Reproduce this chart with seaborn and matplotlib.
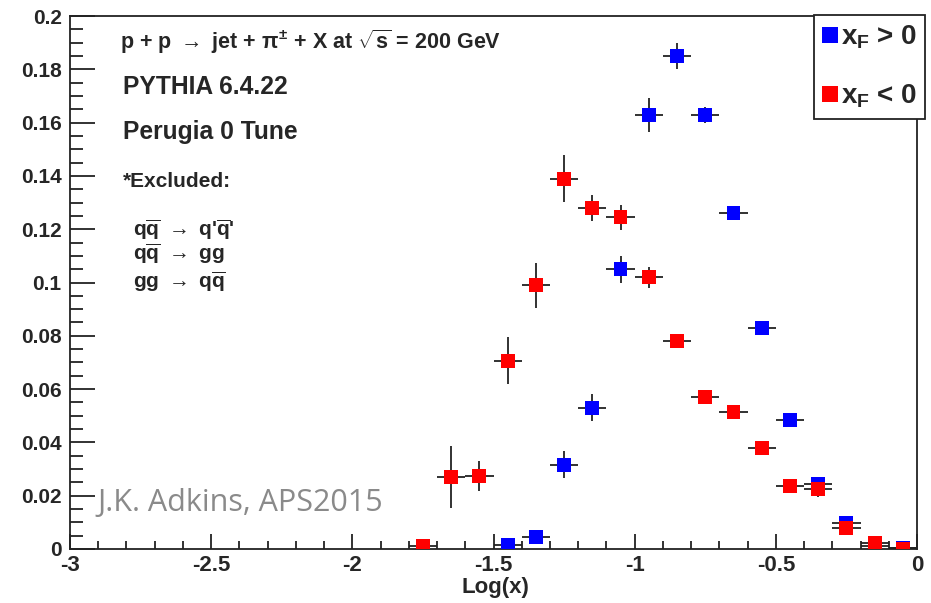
import matplotlib
matplotlib.use("Agg")
import matplotlib.pyplot as plt
import seaborn as sns
import numpy as np
import pandas as pd
from matplotlib.ticker import MultipleLocator, FuncFormatter
from matplotlib.lines import Line2D

# ---- data ----
blue_x = [-1.45, -1.35, -1.25, -1.15, -1.05, -0.95, -0.85, -0.75, -0.65, -0.55, -0.45, -0.35, -0.25, -0.15, -0.05]
blue_y = [0.0015, 0.0045, 0.0316, 0.053, 0.105, 0.163, 0.185, 0.163, 0.126, 0.083, 0.0485, 0.0245, 0.0098, 0.0012, 0.0003]
blue_yerr = [0.001, 0.0015, 0.005, 0.005, 0.005, 0.0064, 0.005, 0.003, 0.002, 0.002, 0.002, 0.0015, 0.001, 0.0005, 0.0003]

red_x = [-1.75, -1.65, -1.55, -1.45, -1.35, -1.25, -1.15, -1.05, -0.95, -0.85, -0.75, -0.65, -0.55, -0.45, -0.35, -0.25, -0.15, -0.05]
red_y = [0.001, 0.027, 0.0275, 0.0707, 0.099, 0.139, 0.128, 0.1245, 0.102, 0.0782, 0.057, 0.0515, 0.038, 0.0237, 0.0226, 0.008, 0.0023, 0.0002]
red_yerr = [0.001, 0.0118, 0.0056, 0.0087, 0.0085, 0.0088, 0.005, 0.0047, 0.004, 0.002, 0.002, 0.002, 0.0015, 0.0015, 0.003, 0.001, 0.0005, 0.0003]

bin_half = 0.05
series_labels = [r"$x_F$ > 0", r"$x_F$ < 0"]
colors = {series_labels[0]: "#0000ff", series_labels[1]: "#ff0000"}

# ---- style ----
sns.set_style("ticks")
plt.rcParams["font.family"] = ["Liberation Sans", "DejaVu Sans"]
plt.rcParams["font.weight"] = "bold"
plt.rcParams["mathtext.fontset"] = "custom"
plt.rcParams["mathtext.rm"] = "Liberation Sans:bold"
plt.rcParams["mathtext.it"] = "Liberation Sans:bold"
plt.rcParams["mathtext.bf"] = "Liberation Sans:bold"
plt.rcParams["mathtext.sf"] = "Liberation Sans:bold"

fig = plt.figure(figsize=(9.31, 6.03), dpi=100)
ax = fig.add_axes([70 / 931, 1 - 549 / 603, (917 - 70) / 931, (549 - 16) / 603])

df = pd.concat([
    pd.DataFrame({"x": blue_x, "y": blue_y, "series": series_labels[0]}),
    pd.DataFrame({"x": red_x, "y": red_y, "series": series_labels[1]}),
], ignore_index=True)

ax.errorbar(blue_x, blue_y, xerr=bin_half, yerr=blue_yerr, fmt="none",
            ecolor="#222222", elinewidth=1.3, capsize=0, zorder=2)
ax.errorbar(red_x, red_y, xerr=bin_half, yerr=red_yerr, fmt="none",
            ecolor="#222222", elinewidth=1.3, capsize=0, zorder=2)
sns.scatterplot(data=df, x="x", y="y", hue="series", palette=colors,
                marker="s", s=100, linewidth=0, ax=ax, legend=False, zorder=3)

ax.set_xlim(-3, 0)
ax.set_ylim(0, 0.2)
for s in ["top", "right", "left", "bottom"]:
    ax.spines[s].set_visible(True)
    ax.spines[s].set_color("#222222")
    ax.spines[s].set_linewidth(1.3)

ax.xaxis.set_major_locator(MultipleLocator(0.5))
ax.xaxis.set_minor_locator(MultipleLocator(0.1))
ax.yaxis.set_major_locator(MultipleLocator(0.02))
ax.yaxis.set_minor_locator(MultipleLocator(0.005))
fmt = FuncFormatter(lambda v, p: f"{round(v, 4) + 0.0:g}")
ax.xaxis.set_major_formatter(fmt)
ax.yaxis.set_major_formatter(fmt)
ax.tick_params(axis="x", which="major", direction="in", length=11, width=1.3, labelsize=16, pad=4, color="#222222")
ax.tick_params(axis="x", which="minor", direction="in", length=5.5, width=1.3, color="#222222")
ax.tick_params(axis="y", which="major", direction="in", length=18, width=1.3, labelsize=15, pad=6, color="#222222")
ax.tick_params(axis="y", which="minor", direction="in", length=9, width=1.3, color="#222222")
for lab in ax.get_xticklabels() + ax.get_yticklabels():
    lab.set_fontweight("bold")

ax.set_xlabel("Log(x)", fontsize=16, fontweight="bold")
ax.xaxis.label.set_va("center")
ax.xaxis.set_label_coords((495 - 70) / (917 - 70), -(588 - 549) / (549 - 16))
ax.set_ylabel("")

# ---- legend ----
handles = [Line2D([0], [0], marker="s", linestyle="none", markersize=11,
                  markerfacecolor=colors[l], markeredgewidth=0) for l in series_labels]
leg = fig.legend(handles, series_labels, loc="upper right",
                 bbox_to_anchor=(925 / 931, 1 - 15 / 603), fontsize=20,
                 frameon=True, fancybox=False, framealpha=1, edgecolor="#222222",
                 handlelength=0.5, handletextpad=0.15, borderpad=0.3, labelspacing=1.15,
                 borderaxespad=0)
leg.get_frame().set_linewidth(1.3)

# ---- annotations ----
fig.text(120 / 931, 1 - 42 / 603, r"p + p $\rightarrow$ jet + $\pi^{\pm}$ + X at $\sqrt{s}$ = 200 GeV",
         fontsize=15.5, fontweight="bold", va="center", ha="left")
fig.text(123 / 931, 1 - 87 / 603, "PYTHIA 6.4.22", fontsize=17.7, fontweight="bold", va="center")
fig.text(123 / 931, 1 - 132 / 603, "Perugia 0 Tune", fontsize=17.7, fontweight="bold", va="center")
fig.text(123 / 931, 1 - 181 / 603, "*Excluded:", fontsize=15, fontweight="bold", va="center")
fig.text(133 / 931, 1 - 230 / 603, r"$q\overline{q}$ $\rightarrow$ $q$'$\overline{q}$'", fontsize=15, va="center")
fig.text(133 / 931, 1 - 254 / 603, r"$q\overline{q}$ $\rightarrow$ gg", fontsize=15, fontweight="bold", va="center")
fig.text(133 / 931, 1 - 282 / 603, r"gg $\rightarrow$ $q\overline{q}$", fontsize=15, fontweight="bold", va="center")

fig.text(97 / 931, 1 - 503 / 603, "J.K. Adkins, APS2015", fontsize=22, fontweight="normal",
         family=["Open Sans", "DejaVu Sans"], color="#8a8a8a", va="center")

fig.savefig("out.png", dpi=100, facecolor="white")
